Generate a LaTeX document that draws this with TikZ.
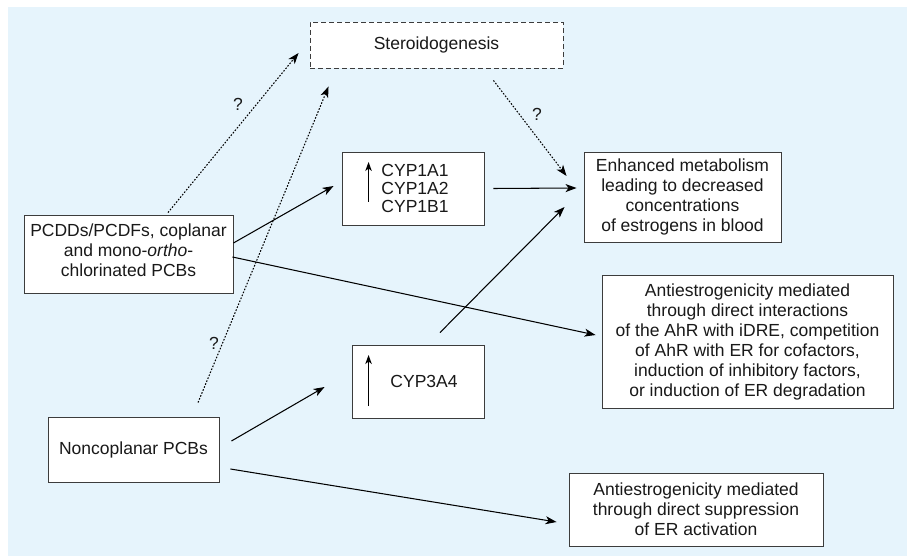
\documentclass[tikz,border=0pt]{standalone}
\usepackage{fontspec}
\setmainfont{Liberation Sans}
\usetikzlibrary{arrows.meta}
\definecolor{bg}{RGB}{230,244,252}
\definecolor{edge}{RGB}{60,60,60}
\begin{document}
\begin{tikzpicture}[x=1pt,y=-1pt,
  box/.style={draw=edge,line width=0.9pt,fill=white,inner sep=0pt,align=center,font=\fontsize{17.5}{20}\selectfont,text=black!90},
  lbl/.style={font=\fontsize{17.5}{20}\selectfont,inner sep=0pt,text=black!90},
  arr/.style={line width=1.05pt,-{Stealth[length=11pt,width=8pt,inset=3pt]}},
  dotarr/.style={arr,dash pattern=on 1.6pt off 1.6pt},
]
\useasboundingbox (0,0) rectangle (907,556);
\fill[bg] (8,7) rectangle (907,556);

\node[box,dash pattern=on 5pt off 3pt,minimum width=253pt,minimum height=46pt] (ster) at (436.5,45) {Steroidogenesis};
\node[box,minimum width=142pt,minimum height=73pt,font=\fontsize{17.5}{18}\selectfont] (cyp1) at (413,188.5) {\hspace*{4pt}CYP1A1\\\hspace*{4pt}CYP1A2\\\hspace*{4pt}CYP1B1};
\node[box,minimum width=197pt,minimum height=90pt] (enh) at (682.5,197) {Enhanced metabolism\\leading to decreased\\concentrations\\of estrogens in blood};
\node[box,minimum width=209pt,minimum height=78pt] (pcdd) at (128.5,254) {PCDDs/PCDFs, coplanar\\and mono-\textit{ortho}-\\chlorinated PCBs\\[-12pt]\mbox{}};
\node[box,minimum width=291pt,minimum height=133pt] (anti1) at (747.5,341.5) {Antiestrogenicity mediated\\through direct interactions\\of the AhR with iDRE, competition\\of AhR with ER for cofactors,\\induction of inhibitory factors,\\or induction of ER degradation};
\node[box,minimum width=132pt,minimum height=73pt] (cyp3) at (418,381.5) {\hspace*{12pt}CYP3A4};
\node[box,minimum width=171pt,minimum height=65pt] (nonc) at (133.5,449.5) {Noncoplanar PCBs};
\node[box,minimum width=254pt,minimum height=73pt] (anti2) at (696,509.5) {Antiestrogenicity mediated\\through direct suppression\\of ER activation};

% up arrows inside CYP boxes
\draw[arr,-{Stealth[length=9pt,width=6.5pt,inset=2.5pt]}] ([shift={(27,13.5)}]cyp1.west) -- ([shift={(27,-26.5)}]cyp1.west);
\draw[arr,-{Stealth[length=9pt,width=6.5pt,inset=2.5pt]}] ([shift={(17,24.5)}]cyp3.west) -- ([shift={(17,-26.5)}]cyp3.west);

% dotted connectors
\draw[dotarr] ([shift={(39.5,-2)}]pcdd.north) -- ([shift={(-11,8)}]ster.west);
\draw[dotarr] ([shift={(64.5,-14)}]nonc.north) -- ([shift={(19,18)}]ster.south west);
\draw[dotarr] ([shift={(-70,12)}]ster.south east) -- ([shift={(-17,-21)}]enh.west);
\node[lbl] (q1) at (238,104) {?};
\node[lbl] (q2) at (214,343) {?};
\node[lbl] (q3) at (537,114) {?};

% solid connectors
\draw[arr] ([shift={(0,-11)}]pcdd.east) -- ([shift={(-8,-2.5)}]cyp1.west);
\draw[arr] ([shift={(9,0)}]cyp1.east) -- ([shift={(-7,-9)}]enh.west);
\draw[arr] ([shift={(22,-12)}]cyp3.north) -- ([shift={(-19,10)}]enh.west);
\draw[arr] ([shift={(-1,3)}]pcdd.east) -- ([shift={(-6,-6.5)}]anti1.west);
\draw[arr] ([shift={(12,-8.5)}]nonc.east) -- ([shift={(-27,5.5)}]cyp3.west);
\draw[arr] ([shift={(11,19.5)}]nonc.east) -- ([shift={(-12,12.5)}]anti2.west);
\end{tikzpicture}
\end{document}
